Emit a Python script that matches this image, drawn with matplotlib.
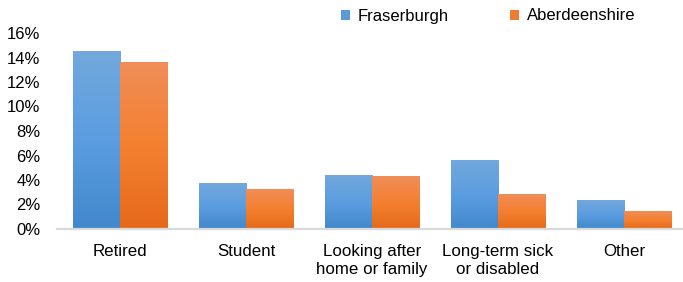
import matplotlib
matplotlib.use("Agg")
import matplotlib.pyplot as plt
from matplotlib.colors import LinearSegmentedColormap
from matplotlib.patches import Patch
import numpy as np

categories = ["Retired", "Student", "Looking after\nhome or family",
              "Long-term sick\nor disabled", "Other"]
fraserburgh = [14.45, 3.75, 4.4, 5.6, 2.35]
aberdeenshire = [13.6, 3.2, 4.25, 2.8, 1.45]
yticks = [0, 2, 4, 6, 8, 10, 12, 14, 16]

plt.rcParams["font.family"] = ["Liberation Sans", "DejaVu Sans"]

blue_cmap = LinearSegmentedColormap.from_list("blue", ["#4288cc", "#5b9de0", "#72a8dc"])
orange_cmap = LinearSegmentedColormap.from_list("orange", ["#e46a1a", "#f4802f", "#f08d58"])


def gradient_bars(ax, bars, cmap):
    # fill each bar with a vertical gradient, dark at the bottom
    grad = np.linspace(0, 1, 256).reshape(-1, 1)
    for b in bars:
        x0, y0 = b.get_x(), b.get_y()
        ax.imshow(grad, extent=[x0, x0 + b.get_width(), y0, y0 + b.get_height()],
                  origin="lower", aspect="auto", cmap=cmap, zorder=2)
        b.set_facecolor("none")


fig = plt.figure(figsize=(6.83, 2.82), dpi=100)
ax = fig.add_axes([57 / 683, 53 / 282, 626 / 683, 196 / 282])

x = np.arange(len(categories))
w = 0.375
b1 = ax.bar(x - w / 2, fraserburgh, w, linewidth=0)
b2 = ax.bar(x + w / 2, aberdeenshire, w, linewidth=0)
gradient_bars(ax, b1, blue_cmap)
gradient_bars(ax, b2, orange_cmap)

ax.set_xlim(-0.5, 4.468)
ax.set_ylim(0, 16)
ax.set_yticks(yticks)
ax.set_yticklabels([f"{v}%" for v in yticks])
ax.set_xticks(x)
ax.set_xticklabels(categories, linespacing=1.25)
ax.tick_params(axis="y", length=0, pad=12, labelsize=12)
ax.tick_params(axis="x", length=0, pad=10.5, labelsize=12.2)

for s in ["top", "right", "left"]:
    ax.spines[s].set_visible(False)
ax.spines["bottom"].set_color("#d9d9d9")
ax.spines["bottom"].set_linewidth(1.6)
ax.spines["bottom"].set_zorder(3)

handles = [Patch(facecolor="#5b9bd5"), Patch(facecolor="#ed7d31")]
fig.legend(handles, ["Fraserburgh", "Aberdeenshire"], loc="center",
           bbox_to_anchor=(488 / 683, 1 - 16 / 282), ncol=2, frameon=False,
           fontsize=12, handlelength=0.55, handleheight=0.55,
           handletextpad=0.45, columnspacing=3.7, borderpad=0)

fig.savefig("out.png", dpi=100)
